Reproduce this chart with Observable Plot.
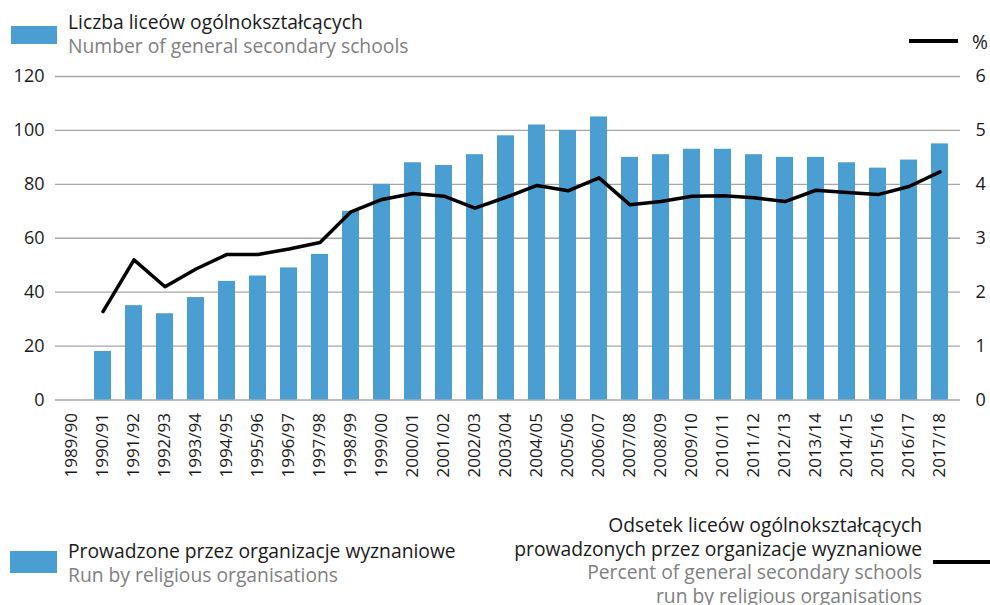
<!DOCTYPE html>
<html><head><meta charset="utf-8">
<script src="https://cdn.jsdelivr.net/npm/d3@7"></script>
<script src="https://cdn.jsdelivr.net/npm/@observablehq/plot@0.6"></script>
<style>
body{margin:0;background:#fff;}
#wrap{position:relative;width:990px;height:605px;font-family:"Open Sans",sans-serif;overflow:hidden;background:#fff}
#wrap svg{position:absolute;left:0;top:0}
.t{position:absolute;white-space:nowrap;font-size:19.3px;line-height:23.5px}
.pl{color:#1a1a1a}.en{color:#808080}
.sw{position:absolute;background:#4b9ed2}
.ln{position:absolute;background:#000}
</style></head><body><div id="wrap"></div>
<script>
const years = ["1989/90","1990/91","1991/92","1992/93","1993/94","1994/95","1995/96","1996/97","1997/98","1998/99","1999/00","2000/01","2001/02","2002/03","2003/04","2004/05","2005/06","2006/07","2007/08","2008/09","2009/10","2010/11","2011/12","2012/13","2013/14","2014/15","2015/16","2016/17","2017/18"];
const schools = [null,18,35,32,38,44,46,49,54,70,80,88,87,91,98,102,100,105,90,91,93,93,91,90,90,88,86,89,95];
const percent = [null,1.64,2.60,2.10,2.43,2.70,2.70,2.80,2.92,3.49,3.72,3.83,3.78,3.56,3.76,3.98,3.88,4.12,3.62,3.68,3.78,3.79,3.75,3.68,3.89,3.85,3.81,3.96,4.23];
const leftTicks = [0,20,40,60,80,100,120];
const pctFactor = 20; // 6% maps to 120 on the shared scale

const data = years.map((y,i)=>({year:y, n:schools[i], p:percent[i]}));

const chart = Plot.plot({
  width:990, height:605,
  marginTop:76, marginBottom:205.5, marginLeft:55, marginRight:30,
  x:{domain:years, range:[56,955], paddingInner:0.45, paddingOuter:0.225, axis:null},
  y:{domain:[0,120], axis:null},
  style:{fontFamily:"'Open Sans',sans-serif", fontSize:"18px", color:"#1a1a1a", background:"transparent"},
  marks:[
    Plot.ruleY(leftTicks, {stroke:"#a6a6a6", strokeWidth:1.3}),
    Plot.barY(data.filter(d=>d.n!=null), {x:"year", y:"n", fill:"#4b9ed2"}),
    Plot.lineY(data.filter(d=>d.p!=null), {x:"year", y:d=>d.p*pctFactor, stroke:"#000", strokeWidth:3.5, strokeLinejoin:"round", strokeLinecap:"round"}),
    Plot.axisY({anchor:"left", label:null, ticks:leftTicks, tickSize:0, tickPadding:11, fontSize:18}),
    Plot.axisY({anchor:"right", label:null, ticks:leftTicks, tickFormat:d=>d/pctFactor, tickSize:0, tickPadding:15, fontSize:18}),
    Plot.axisX({anchor:"bottom", label:null, tickRotate:-90, tickSize:0, tickPadding:13, fontSize:17})
  ]
});
const wrap = document.getElementById("wrap");
wrap.appendChild(chart);
wrap.insertAdjacentHTML("beforeend", `
<div class="sw" style="left:11px;top:26px;width:46px;height:18px"></div>
<div class="t" style="left:68px;top:10px"><div class="pl">Liczba liceów ogólnokształcących</div><div class="en">Number of general secondary schools</div></div>
<div class="ln" style="left:909px;top:39px;width:49px;height:4px"></div>
<div class="t pl" style="left:972px;top:30px">%</div>
<div class="sw" style="left:10px;top:551px;width:47px;height:22px"></div>
<div class="t" style="left:68px;top:539px"><div class="pl">Prowadzone przez organizacje wyznaniowe</div><div class="en">Run by religious organisations</div></div>
<div class="t" style="right:68px;top:513px;text-align:right"><div class="pl">Odsetek liceów ogólnokształcących</div><div class="pl">prowadzonych przez organizacje wyznaniowe</div><div class="en">Percent of general secondary schools</div><div class="en">run by religious organisations</div></div>
<div class="ln" style="left:933px;top:560px;width:57px;height:4px"></div>
`);
</script></body></html>
